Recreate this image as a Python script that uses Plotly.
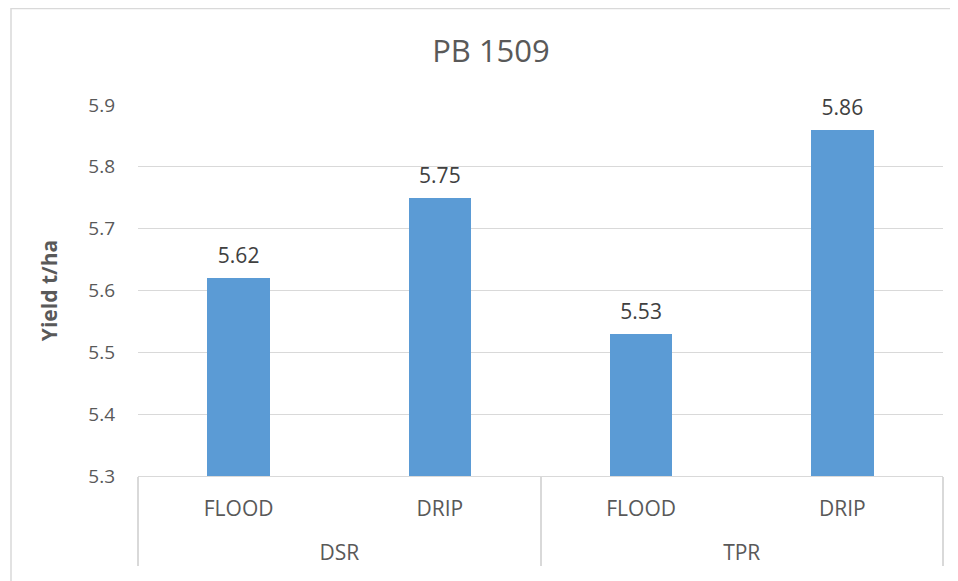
import plotly.graph_objects as go

groups = ["DSR", "DSR", "TPR", "TPR"]
methods = ["FLOOD", "DRIP", "FLOOD", "DRIP"]
yields = [5.62, 5.75, 5.53, 5.86]
y_ticks = [5.3, 5.4, 5.5, 5.6, 5.7, 5.8, 5.9]

W, H = 958, 581
L, R, T, B = 130, 23, 97, 113
pw = W - L - R
ph = H - T - B

font = "Open Sans"
txt = "#595959"

# push the group label one line lower, as in the reference
group_labels = ["<br>" + g for g in groups]

fig = go.Figure()
fig.add_trace(go.Bar(
    x=[group_labels, methods], y=yields,
    marker=dict(color="#5B9BD5", line=dict(width=0)),
    width=0.31, hoverinfo="skip",
))
fig.add_trace(go.Scatter(
    x=[group_labels, methods], y=yields,
    mode="markers+text",
    marker=dict(size=14, color="rgba(0,0,0,0)"),
    text=[f"{v:.2f}" for v in yields], textposition="top center",
    textfont=dict(family=font, size=21, color="#404040"),
    cliponaxis=False, hoverinfo="skip",
))

fig.update_layout(
    width=W, height=H,
    margin=dict(l=L, r=R, t=T, b=B),
    paper_bgcolor="white", plot_bgcolor="white",
    showlegend=False,
    title=dict(text="PB 1509", x=483 / W, xanchor="center", y=1 - 43 / H, yanchor="middle",
               font=dict(family=font, size=31, color=txt)),
    yaxis=dict(range=[5.3, 5.9], tickvals=y_ticks, ticktext=[f"{v:.1f}" for v in y_ticks],
               showgrid=True, gridcolor="#D9D9D9", gridwidth=1, zeroline=False,
               ticks="", ticklen=0, ticklabelstandoff=22,
               tickfont=dict(family=font, size=19, color=txt),
               title=dict(text="<b>Yield t/ha</b>", font=dict(family=font, size=21, color=txt),
                          standoff=24)),
    xaxis=dict(type="multicategory", showline=True, linecolor="#D9D9D9", linewidth=1,
               showdividers=True, dividercolor="#D9D9D9", dividerwidth=1.5,
               ticks="", ticklabelstandoff=14,
               tickfont=dict(family=font, size=21, color=txt)),
    shapes=[dict(type="rect", xref="paper", yref="paper",
                 x0=(3 - L) / pw, x1=(955 - L) / pw,
                 y0=-(B + 20) / ph, y1=(T - 0.5) / ph + 1,
                 line=dict(color="#D9D9D9", width=1.5), fillcolor="rgba(0,0,0,0)", layer="below")],
    bargap=0,
)

fig.write_html("out.html")
